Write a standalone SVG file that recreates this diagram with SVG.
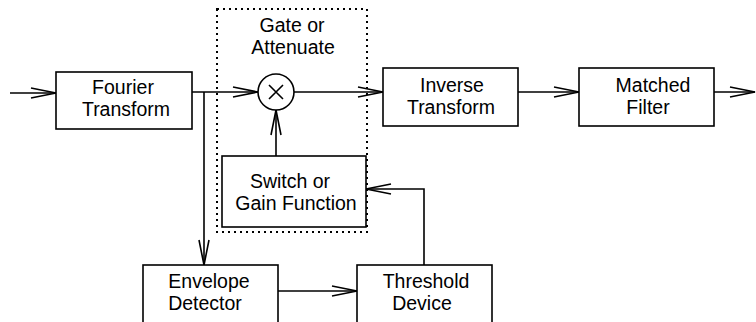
<svg xmlns="http://www.w3.org/2000/svg" width="756" height="322" viewBox="0 0 756 322">
<style>
.box{fill:#fff;stroke:#000;stroke-width:1.6}
.ln{fill:none;stroke:#000;stroke-width:1.6}
.t{font-family:"Liberation Sans",Arial,sans-serif;font-size:19.5px;fill:#000;text-anchor:middle}
.dot{fill:none;stroke:#000;stroke-width:2;stroke-dasharray:2 4}
</style>
<defs>
<marker id="ah" markerUnits="userSpaceOnUse" markerWidth="30" markerHeight="14" viewBox="-27 -7 30 14" refX="0" refY="0" orient="auto">
<path d="M-25,-5 L0,0 L-25,5" fill="none" stroke="#000" stroke-width="1.6"/>
</marker>
</defs>
<rect class="dot" x="217" y="9" width="150" height="223"/>
<text class="t" x="292" y="32">Gate or</text>
<text class="t" x="293" y="54">Attenuate</text>
<g id="connectors">
<path class="ln" d="M10,93 H56" marker-end="url(#ah)"/>
<path class="ln" d="M192,92 H258" marker-end="url(#ah)"/>
<path class="ln" d="M204,92 V265" marker-end="url(#ah)"/>
<path class="ln" d="M276,156 V110" marker-end="url(#ah)"/>
<path class="ln" d="M294,92 H383" marker-end="url(#ah)"/>
<path class="ln" d="M518,92 H579" marker-end="url(#ah)"/>
<path class="ln" d="M714,92 H755" marker-end="url(#ah)"/>
<path class="ln" d="M278,291 H357" marker-end="url(#ah)"/>
<path class="ln" d="M424,265 V189 H366" marker-end="url(#ah)"/>
</g>
<g id="fourier">
<rect class="box" x="56" y="72" width="136" height="57"/>
<text class="t" x="123" y="94">Fourier</text>
<text class="t" x="126" y="116">Transform</text>
</g>
<g id="multiplier">
<circle class="box" cx="276" cy="92" r="18"/>
<path class="ln" d="M269,85 L283,99 M283,85 L269,99"/>
</g>
<g id="switch">
<rect class="box" x="222" y="156" width="144" height="71"/>
<text class="t" x="290" y="188">Switch or</text>
<text class="t" x="296" y="210">Gain Function</text>
</g>
<g id="inverse">
<rect class="box" x="383" y="68" width="135" height="58"/>
<text class="t" x="452" y="92">Inverse</text>
<text class="t" x="451" y="114">Transform</text>
</g>
<g id="matched">
<rect class="box" x="579" y="68" width="135" height="58"/>
<text class="t" x="653" y="92">Matched</text>
<text class="t" x="648" y="114">Filter</text>
</g>
<g id="envelope">
<rect class="box" x="143" y="265" width="135" height="60"/>
<text class="t" x="209" y="288">Envelope</text>
<text class="t" x="205" y="310">Detector</text>
</g>
<g id="threshold">
<rect class="box" x="357" y="265" width="135" height="60"/>
<text class="t" x="426" y="288">Threshold</text>
<text class="t" x="422" y="310">Device</text>
</g>
</svg>
